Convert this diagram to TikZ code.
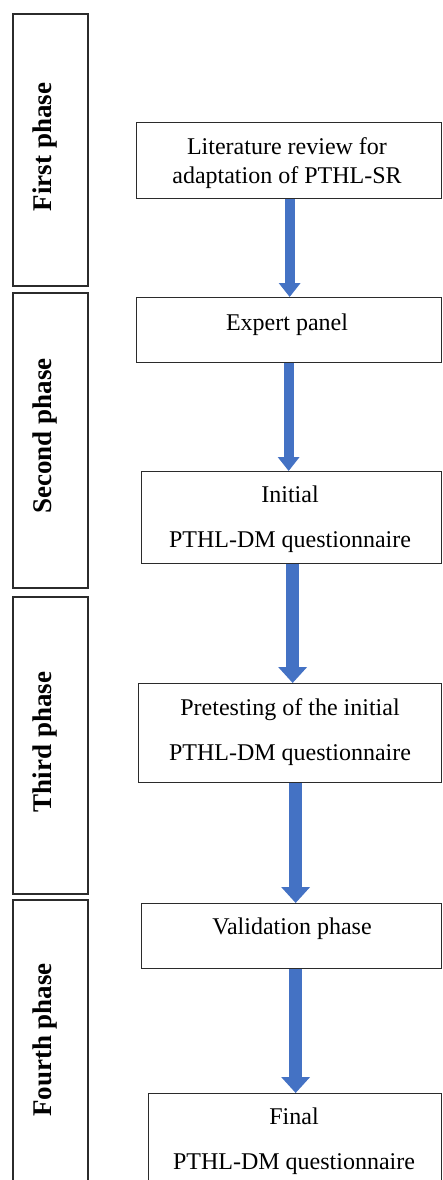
\documentclass[tikz,border=0pt]{standalone}
\usepackage{fontspec}
\setmainfont{Liberation Serif}
\usetikzlibrary{arrows.meta}
\definecolor{arrowblue}{HTML}{4472C4}
\definecolor{edge}{HTML}{2B2B2B}
\tikzset{
  x=1pt, y=-1pt,
  stepbox/.style={draw=edge, line width=1.3pt, inner sep=0pt, anchor=north west},
  phasebox/.style={draw=edge, line width=2pt, inner sep=0pt, anchor=north west, minimum width=75pt},
  phaselabel/.style={rotate=90, inner sep=0pt, font=\fontsize{27}{30}\selectfont\bfseries},
  steptext/.style={anchor=base, inner sep=0pt, font=\fontsize{24}{28}\selectfont},
  thinarrow/.style={arrowblue, line width=10pt, -{Triangle[width=21pt,length=14pt]}},
  widearrow/.style={arrowblue, line width=13pt, -{Triangle[width=28pt,length=16pt]}}
}
\begin{document}
\begin{tikzpicture}
\useasboundingbox (0,0) rectangle (442,1180);
\clip (0,0) rectangle (442,1180);
% phase boxes
\node[phasebox, minimum height=272pt] (p1) at (12,13) {};
\node[phasebox, minimum height=295pt] (p2) at (12,292) {};
\node[phasebox, minimum height=297pt] (p3) at (12,596) {};
\node[phasebox, minimum height=290pt] (p4) at (12,899) {};
\node[phaselabel] (l1) at (45,147) {First phase};
\node[phaselabel] (l2) at (45,436) {Second phase};
\node[phaselabel] (l3) at (45,742) {Third phase};
\node[phaselabel] (l4) at (45,1040) {Fourth phase};
% step boxes
\node[stepbox, minimum width=305pt, minimum height=76pt] (b1) at (136,122) {};
\node[stepbox, minimum width=305pt, minimum height=65pt] (b2) at (136,297) {};
\node[stepbox, minimum width=300pt, minimum height=92pt] (b3) at (141,471) {};
\node[stepbox, minimum width=303pt, minimum height=99pt] (b4) at (138,683) {};
\node[stepbox, minimum width=300pt, minimum height=65pt] (b5) at (141,903) {};
\node[stepbox, minimum width=293pt, minimum height=100pt] (b6) at (148,1093) {};
% texts
\node[steptext] (t1a) at (287,154) {Literature review for};
\node[steptext] (t1b) at (287,183) {adaptation of PTHL-SR};
\node[steptext] (t2a) at (287,330) {Expert panel};
\node[steptext] (t3a) at (290,502) {Initial};
\node[steptext] (t3b) at (290,547) {PTHL-DM questionnaire};
\node[steptext] (t4a) at (290,715) {Pretesting of the initial};
\node[steptext] (t4b) at (290,760) {PTHL-DM questionnaire};
\node[steptext] (t5a) at (292,934) {Validation phase};
\node[steptext] (t6a) at (294,1124) {Final};
\node[steptext] (t6b) at (294,1169) {PTHL-DM questionnaire};
% arrows
\draw[thinarrow] ([xshift=0.5pt]b1.south) -- ([xshift=0.5pt]b2.north);
\draw[thinarrow] ([xshift=-0.5pt]b2.south) -- ([xshift=-3pt]b3.north);
\draw[widearrow] ([xshift=1pt]b3.south) -- ([xshift=2.5pt]b4.north);
\draw[widearrow] ([xshift=5.5pt]b4.south) -- ([xshift=4pt]b5.north);
\draw[widearrow] ([xshift=4pt]b5.south) -- ([xshift=0.5pt]b6.north);
\end{tikzpicture}
\end{document}
